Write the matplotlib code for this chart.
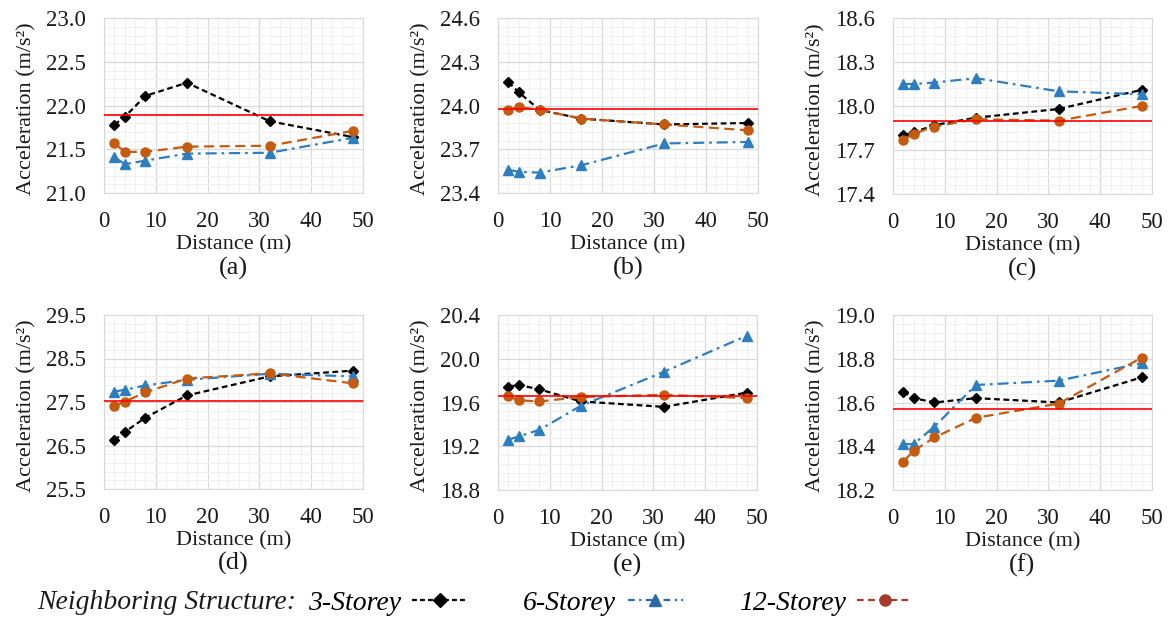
import matplotlib
matplotlib.use("Agg")
import numpy as np
import matplotlib.pyplot as plt
from matplotlib.lines import Line2D
from matplotlib.ticker import MultipleLocator, FormatStrFormatter

plt.rcParams['font.family'] = ['Liberation Serif', 'DejaVu Serif']

# distances (m)
dist = [2, 4, 8, 16, 32, 48]

# (a)
a_3 = [21.78, 21.87, 22.11, 22.26, 21.82, 21.64]
a_6 = [21.41, 21.33, 21.37, 21.45, 21.46, 21.63]
a_12 = [21.57, 21.47, 21.47, 21.53, 21.54, 21.71]
a_ref = 21.89
# (b)
b_3 = [24.16, 24.09, 23.97, 23.91, 23.87, 23.88]
b_6 = [23.56, 23.545, 23.54, 23.59, 23.74, 23.75]
b_12 = [23.97, 23.99, 23.97, 23.91, 23.87, 23.83]
b_ref = 23.975
# (c)
c_3 = [17.80, 17.82, 17.87, 17.92, 17.98, 18.11]
c_6 = [18.15, 18.15, 18.16, 18.19, 18.10, 18.08]
c_12 = [17.77, 17.81, 17.86, 17.91, 17.90, 18.00]
c_ref = 17.90
# (d)
d_3 = [26.62, 26.81, 27.14, 27.65, 28.09, 28.22]
d_6 = [27.74, 27.78, 27.88, 28.01, 28.15, 28.09]
d_12 = [27.41, 27.51, 27.72, 28.04, 28.16, 27.93]
d_ref = 27.53
# (e)
e_3 = [19.745, 19.76, 19.72, 19.61, 19.56, 19.69]
e_6 = [19.26, 19.29, 19.35, 19.57, 19.88, 20.21]
e_12 = [19.66, 19.62, 19.61, 19.65, 19.67, 19.64]
e_ref = 19.655
# (f)
f_3 = [18.65, 18.62, 18.60, 18.62, 18.60, 18.715]
f_6 = [18.41, 18.41, 18.49, 18.68, 18.70, 18.78]
f_12 = [18.33, 18.38, 18.44, 18.53, 18.595, 18.805]
f_ref = 18.57

panel_tags = ['(a)', '(b)', '(c)', '(d)', '(e)', '(f)']
y_lims = [(21.0, 23.0), (23.4, 24.6), (17.4, 18.6), (25.5, 29.5), (18.8, 20.4), (18.2, 19.0)]
y_steps = [0.5, 0.3, 0.3, 1.0, 0.4, 0.2]
series = [(a_3, a_6, a_12, a_ref), (b_3, b_6, b_12, b_ref), (c_3, c_6, c_12, c_ref),
          (d_3, d_6, d_12, d_ref), (e_3, e_6, e_12, e_ref), (f_3, f_6, f_12, f_ref)]

legend_labels = ['3-Storey', '6-Storey', '12-Storey']

BLUE = '#2e7ebf'
ORANGE = '#c55a11'
TXT = '#1a1a1a'

W, H = 1169, 619
fig = plt.figure(figsize=(W / 100, H / 100), dpi=100)

# axes boxes in pixels: left, right, top, bottom
boxes = [(104, 363, 18, 193), (498, 758, 18, 193), (893, 1152, 18, 194),
         (104, 363, 315, 489), (498, 757, 315, 490), (893, 1152, 315, 490)]

for i, (l, r, t, b) in enumerate(boxes):
    ax = fig.add_axes([l / W, 1 - b / H, (r - l) / W, (b - t) / H])
    s3, s6, s12, ref = series[i]
    ax.plot(dist, s3, color='black', lw=1.6, ls=(0, (2.6, 1.6)), marker='D', ms=5, zorder=3)
    ax.plot(dist, s6, color=BLUE, lw=1.6, ls=(0, (5, 2.2, 1.2, 2.2)), marker='^', ms=6.5, zorder=3)
    ax.plot(dist, s12, color=ORANGE, lw=1.6, ls=(0, (4.5, 2.5)), marker='o', ms=6.5, zorder=3)
    ax.axhline(ref, color='#ff0000', lw=1.2, zorder=4)

    lo, hi = y_lims[i]
    st = y_steps[i]
    ax.set_xlim(0, 50)
    ax.set_ylim(lo, hi)
    ax.xaxis.set_major_locator(MultipleLocator(10))
    ax.xaxis.set_minor_locator(MultipleLocator(2))
    ax.set_yticks(np.arange(lo, hi + st / 10, st))
    ax.set_yticks(np.arange(lo, hi + st / 50, st / 5), minor=True)
    ax.yaxis.set_major_formatter(FormatStrFormatter('%.1f'))
    ax.grid(which='major', color='#d9d9d9', lw=0.9)
    ax.grid(which='minor', color='#f0f0f0', lw=0.7)
    ax.set_axisbelow(True)
    for sp in ax.spines.values():
        sp.set_color('#d9d9d9')
    ax.tick_params(which='both', length=0, labelsize=16.5, labelcolor=TXT, pad=13)

    ax.set_xlabel('Distance (m)', fontsize=16, color=TXT)
    ax.xaxis.set_label_coords(0.5, -0.24)
    ax.set_ylabel('Acceleration (m/s²)', fontsize=16, color=TXT)
    ax.yaxis.set_label_coords(-0.26, 0.48)
    ax.text(0.5, -0.43, panel_tags[i], transform=ax.transAxes, ha='center', va='center',
            fontsize=19, color=TXT)

# legend row
fig.text(37 / W, 0.026, 'Neighboring Structure:', fontsize=20, style='italic',
         va='center', ha='left', color=TXT)
handles = [
    Line2D([], [], color='black', lw=1.6, ls=(0, (2.2, 1.4)), marker='D', ms=7),
    Line2D([], [], color='#2e6aa8', lw=1.6, ls=(0, (3, 2, 1, 2)), marker='^', ms=8),
    Line2D([], [], color='#a33a2c', lw=1.6, ls=(0, (3, 2)), marker='o', ms=8),
]
fig.legend(handles, legend_labels, ncol=3, markerfirst=False, frameon=False,
           loc='center left', bbox_to_anchor=(308 / W, 0.026),
           prop={'size': 20, 'style': 'italic'}, handlelength=2.0,
           handletextpad=0.4, columnspacing=2.0, borderpad=0, borderaxespad=0)

fig.savefig('out.png', dpi=100)
